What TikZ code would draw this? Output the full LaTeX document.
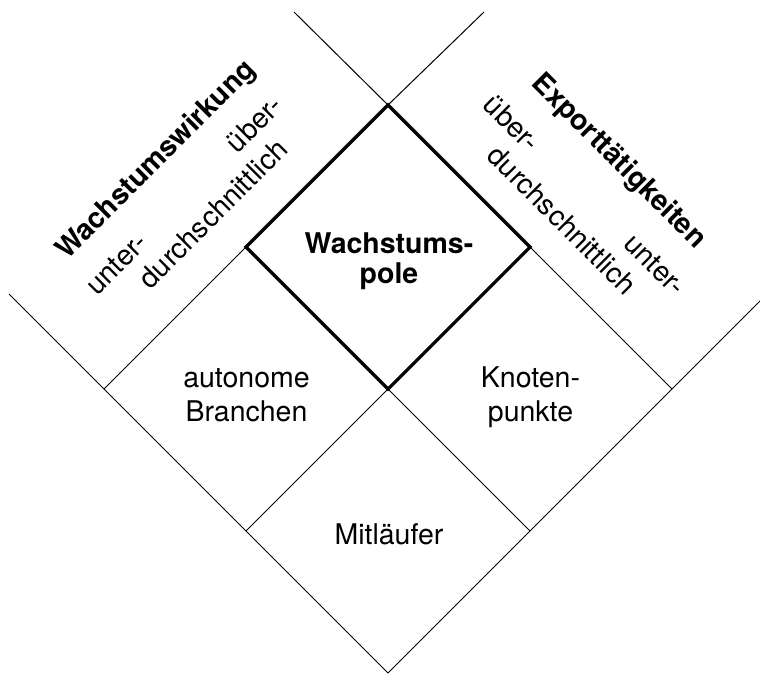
\documentclass[tikz,border=0pt]{standalone}
\usepackage{fontspec}
\setmainfont{TeX Gyre Heros}

\tikzset{
    gridline/.style={line width=1pt},
    poleline/.style={line width=3.2pt},
    celltext/.style={font=\fontsize{28.5}{34}\selectfont, align=center, inner sep=0pt},
    poletext/.style={celltext, font=\fontsize{28.5}{30}\selectfont\bfseries},
    sidetext/.style={font=\fontsize{28.5}{34}\selectfont, inner sep=0pt, anchor=base},
    sidehead/.style={sidetext, font=\fontsize{28.5}{34}\selectfont\bfseries}
}

\begin{document}
\begin{tikzpicture}[x=1pt,y=-1pt]
        \useasboundingbox (0,0) rectangle (760,673);

        % grid points
        \coordinate (tl) at (294,12);
        \coordinate (tr) at (484,12);
        \coordinate (pt) at (388,105);
        \coordinate (pl) at (246,247);
        \coordinate (pr) at (530,247);
        \coordinate (pb) at (388,389);
        \coordinate (lo) at (9,294);
        \coordinate (ro) at (760,301);
        \coordinate (cl) at (104,389);
        \coordinate (cr) at (672,389);
        \coordinate (bl) at (246,531);
        \coordinate (br) at (530,531);
        \coordinate (bt) at (388,673);

        \begin{scope}[gridline]
            \path (tl) edge (pt);
            \path (tr) edge (pt);
            \path (pl) edge (cl);
            \path (pr) edge (cr);
            \path (pb) edge (bl);
            \path (pb) edge (br);
            \draw (lo) -- (cl) -- (bl) -- (bt);
            \draw (ro) -- (cr) -- (br) -- (bt);
        \end{scope}
        \draw[poleline] (pt) -- (pr) -- (pb) -- (pl) -- cycle;

        \node[poletext] (pole) at (389,261) {Wachstums-\\pole};
        \node[celltext] (auto) at (246.5,395) {autonome\\Branchen};
        \node[celltext] (knoten) at (530.5,397.5) {Knoten-\\punkte};
        \node[celltext, anchor=base] (mit) at (389,544) {Mitläufer};

        \node[sidehead, rotate=45] (wirkung) at (162,166) {Wachstumswirkung};
        \node[sidetext, rotate=45] (wunter) at (123,271) {unter-};
        \node[sidetext, rotate=45] (wueber) at (261,131) {über-};
        \node[sidetext, rotate=45] (wdurch) at (220,221) {durchschnittlich};

        \node[sidehead, rotate=-45] (export) at (613,167) {Exporttätigkeiten};
        \node[sidetext, rotate=-45] (eueber) at (505,130) {über-};
        \node[sidetext, rotate=-45] (edurch) at (555,227) {durchschnittlich};
        \node[sidetext, rotate=-45] (eunter) at (648,271) {unter-};
    \end{tikzpicture}
\end{document}
